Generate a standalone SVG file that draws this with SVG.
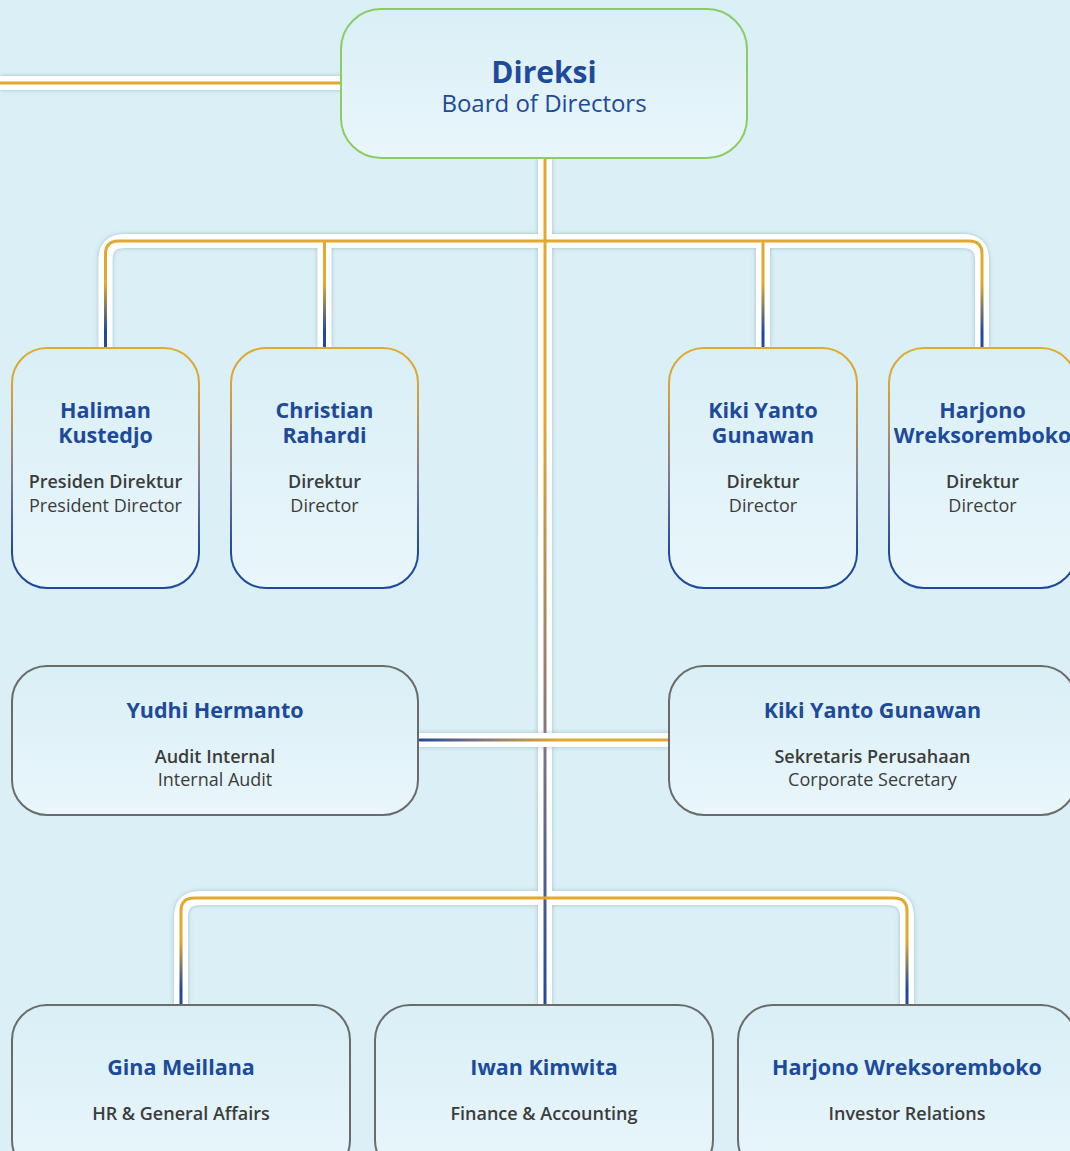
<svg xmlns="http://www.w3.org/2000/svg" width="1070" height="1151" viewBox="0 0 1070 1151">
  <defs>
    <style>
      .bg { fill: #DAF0F6; }
      .box-fill { fill: url(#boxFill); }
      .band { fill: none; stroke: #FFFFFF; stroke-width: 14; }
      .wire { fill: none; stroke-width: 3; }
      .name { font-family: "Open Sans", "Noto Sans", sans-serif; font-weight: 700; font-size: 21.5px; fill: #1E4A9A; text-anchor: middle; }
      .role { font-family: "Open Sans", "Noto Sans", sans-serif; font-weight: 600; font-size: 18px; fill: #3C3C3C; text-anchor: middle; }
      .role-en { font-family: "Open Sans", "Noto Sans", sans-serif; font-weight: 400; font-size: 18px; fill: #3C3C3C; text-anchor: middle; }
      .title { font-family: "Open Sans", "Noto Sans", sans-serif; font-weight: 700; font-size: 30px; fill: #1E4A9A; text-anchor: middle; }
      .subtitle { font-family: "Open Sans", "Noto Sans", sans-serif; font-weight: 400; font-size: 24px; fill: #1E4A9A; text-anchor: middle; }
      .gray-box { stroke: #6B6B6B; stroke-width: 2; }
      .dir-box { stroke: url(#dirStroke); stroke-width: 2; }
    </style>
    <linearGradient id="boxFill" x1="0" y1="0" x2="0" y2="1">
      <stop offset="0" stop-color="#D9EFF6"/>
      <stop offset="1" stop-color="#E9F6FB"/>
    </linearGradient>
    <linearGradient id="dirStroke" x1="0" y1="0" x2="0" y2="1">
      <stop offset="0" stop-color="#E1AA2E"/>
      <stop offset="0.15" stop-color="#D9A53A"/>
      <stop offset="0.55" stop-color="#7E7890"/>
      <stop offset="0.85" stop-color="#1F4A9B"/>
      <stop offset="1" stop-color="#1F4A9B"/>
    </linearGradient>
    <linearGradient id="topWire" gradientUnits="userSpaceOnUse" x1="0" y1="240" x2="0" y2="348">
      <stop offset="0" stop-color="#E1AA2E"/>
      <stop offset="0.4" stop-color="#E1AA2E"/>
      <stop offset="0.85" stop-color="#1F4A9B"/>
      <stop offset="1" stop-color="#1F4A9B"/>
    </linearGradient>
    <linearGradient id="bottomWire" gradientUnits="userSpaceOnUse" x1="0" y1="898" x2="0" y2="1005">
      <stop offset="0" stop-color="#E1AA2E"/>
      <stop offset="0.4" stop-color="#E1AA2E"/>
      <stop offset="0.85" stop-color="#1F4A9B"/>
      <stop offset="1" stop-color="#1F4A9B"/>
    </linearGradient>
    <linearGradient id="trunkWire" gradientUnits="userSpaceOnUse" x1="0" y1="158" x2="0" y2="1005">
      <stop offset="0" stop-color="#E1AA2E"/>
      <stop offset="0.3" stop-color="#E1AA2E"/>
      <stop offset="0.7" stop-color="#7F7485"/>
      <stop offset="1" stop-color="#1F4A9B"/>
    </linearGradient>
    <linearGradient id="midWire" gradientUnits="userSpaceOnUse" x1="418" y1="0" x2="560" y2="0">
      <stop offset="0" stop-color="#1F4A9B"/>
      <stop offset="0.5" stop-color="#8A7C78"/>
      <stop offset="1" stop-color="#E1AA2E"/>
    </linearGradient>
    <filter id="bandShadow" filterUnits="userSpaceOnUse" x="0" y="0" width="1070" height="1151">
      <feDropShadow dx="0" dy="0" stdDeviation="2.2" flood-color="#6F93A3" flood-opacity="0.55"/>
    </filter>
  </defs>

  <rect class="bg" x="0" y="0" width="1070" height="1151"/>

  <!-- connectors -->
  <g id="connectors">
    <!-- white bands with soft shadow -->
    <g filter="url(#bandShadow)">
      <path class="band" d="M0 83 H342"/>
      <path class="band" d="M545 158 V1005"/>
      <path class="band" d="M105.5 348 V260 Q105.5 241 124.5 241 H963 Q982 241 982 260 V348"/>
      <path class="band" d="M324.5 241 V348"/>
      <path class="band" d="M763 241 V348"/>
      <path class="band" d="M181 1005 V917 Q181 898 200 898 H888 Q907 898 907 917 V1005"/>
    </g>
    <!-- coloured wires -->
    <path class="wire" stroke="#E1AA2E" d="M0 83 H342"/>
    <path class="wire" stroke="url(#trunkWire)" d="M545 158 V1005"/>
    <path class="wire" stroke="url(#topWire)" d="M105.5 348 V254 Q105.5 241 118.5 241 H969 Q982 241 982 254 V348"/>
    <path class="wire" stroke="url(#topWire)" d="M324.5 241 V348"/>
    <path class="wire" stroke="url(#topWire)" d="M763 241 V348"/>
    <path class="wire" stroke="url(#bottomWire)" d="M181 1005 V911 Q181 898 194 898 H894 Q907 898 907 911 V1005"/>
    <!-- staff link across the trunk -->
    <g filter="url(#bandShadow)">
      <path class="band" d="M418 740 H669"/>
    </g>
    <path class="wire" stroke="url(#midWire)" d="M418 740 H669"/>
  </g>

  <!-- Board of Directors -->
  <g id="node-direksi">
    <rect class="box-fill" x="341" y="9" width="406" height="149" rx="40" stroke="#8DCB63" stroke-width="2"/>
    <text class="title" x="544" y="83">Direksi</text>
    <text class="subtitle" x="544" y="112">Board of Directors</text>
  </g>

  <!-- Directors -->
  <g id="node-haliman">
    <rect class="box-fill dir-box" x="12" y="348" width="187" height="240" rx="35"/>
    <text class="name" x="105.5" y="418">Haliman</text>
    <text class="name" x="105.5" y="443">Kustedjo</text>
    <text class="role" x="105.5" y="488">Presiden Direktur</text>
    <text class="role-en" x="105.5" y="512">President Director</text>
  </g>
  <g id="node-christian">
    <rect class="box-fill dir-box" x="231" y="348" width="187" height="240" rx="35"/>
    <text class="name" x="324.5" y="418">Christian</text>
    <text class="name" x="324.5" y="443">Rahardi</text>
    <text class="role" x="324.5" y="488">Direktur</text>
    <text class="role-en" x="324.5" y="512">Director</text>
  </g>
  <g id="node-kiki-director">
    <rect class="box-fill dir-box" x="669" y="348" width="188" height="240" rx="35"/>
    <text class="name" x="763" y="418">Kiki Yanto</text>
    <text class="name" x="763" y="443">Gunawan</text>
    <text class="role" x="763" y="488">Direktur</text>
    <text class="role-en" x="763" y="512">Director</text>
  </g>
  <g id="node-harjono-director">
    <rect class="box-fill dir-box" x="889" y="348" width="187" height="240" rx="35"/>
    <text class="name" x="982.5" y="418">Harjono</text>
    <text class="name" x="982.5" y="443">Wreksoremboko</text>
    <text class="role" x="982.5" y="488">Direktur</text>
    <text class="role-en" x="982.5" y="512">Director</text>
  </g>

  <!-- Staff functions -->
  <g id="node-yudhi">
    <rect class="box-fill gray-box" x="12" y="666" width="406" height="149" rx="35"/>
    <text class="name" x="215" y="718">Yudhi Hermanto</text>
    <text class="role" x="215" y="763">Audit Internal</text>
    <text class="role-en" x="215" y="786">Internal Audit</text>
  </g>
  <g id="node-kiki-secretary">
    <rect class="box-fill gray-box" x="669" y="666" width="407" height="149" rx="35"/>
    <text class="name" x="872.5" y="718">Kiki Yanto Gunawan</text>
    <text class="role" x="872.5" y="763">Sekretaris Perusahaan</text>
    <text class="role-en" x="872.5" y="786">Corporate Secretary</text>
  </g>

  <!-- Departments -->
  <g id="node-gina">
    <rect class="box-fill gray-box" x="12" y="1005" width="338" height="170" rx="35"/>
    <text class="name" x="181" y="1075">Gina Meillana</text>
    <text class="role" x="181" y="1120">HR &amp; General Affairs</text>
  </g>
  <g id="node-iwan">
    <rect class="box-fill gray-box" x="375" y="1005" width="338" height="170" rx="35"/>
    <text class="name" x="544" y="1075">Iwan Kimwita</text>
    <text class="role" x="544" y="1120">Finance &amp; Accounting</text>
  </g>
  <g id="node-harjono-ir">
    <rect class="box-fill gray-box" x="738" y="1005" width="338" height="170" rx="35"/>
    <text class="name" x="907" y="1075">Harjono Wreksoremboko</text>
    <text class="role" x="907" y="1120">Investor Relations</text>
  </g>
</svg>
